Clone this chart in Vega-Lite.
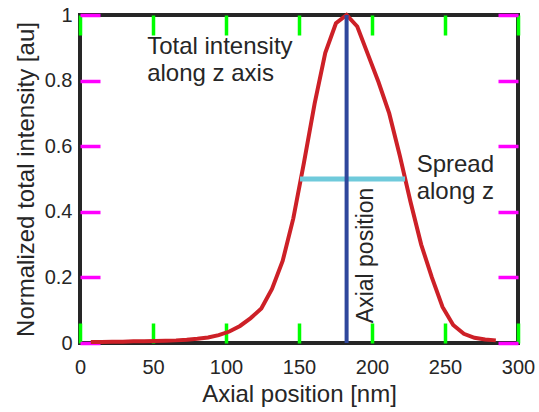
{
  "$schema": "https://vega.github.io/schema/vega-lite/v6.json",
  "width": 438,
  "height": 328,
  "autosize": "none",
  "padding": {"left": 80, "top": 15, "right": 21, "bottom": 69},
  "background": "white",
  "config": {
    "font": "Liberation Sans",
    "view": {"stroke": "#262626", "strokeWidth": 4},
    "axis": {
      "domain": false,
      "labelFlush": false,
      "labelColor": "#262626",
      "labelFontSize": 20,
      "labelFont": "Liberation Sans",
      "titleFont": "Liberation Sans",
      "titleFontSize": 24,
      "titleFontWeight": "normal",
      "titleColor": "#262626"
    }
  },
  "datasets": {
    "curve": [
      {"pos": 7.4, "val": 0.003}, {"pos": 14.7, "val": 0.003}, {"pos": 22.0, "val": 0.004},
      {"pos": 29.3, "val": 0.004}, {"pos": 36.6, "val": 0.005}, {"pos": 43.9, "val": 0.005},
      {"pos": 51.2, "val": 0.006}, {"pos": 58.5, "val": 0.007}, {"pos": 65.8, "val": 0.008},
      {"pos": 73.1, "val": 0.010}, {"pos": 80.4, "val": 0.013}, {"pos": 87.7, "val": 0.017},
      {"pos": 95.0, "val": 0.024}, {"pos": 102.3, "val": 0.035}, {"pos": 109.6, "val": 0.052},
      {"pos": 116.9, "val": 0.076}, {"pos": 124.2, "val": 0.105}, {"pos": 131.5, "val": 0.165},
      {"pos": 138.8, "val": 0.25}, {"pos": 146.1, "val": 0.38}, {"pos": 153.4, "val": 0.55},
      {"pos": 160.7, "val": 0.73}, {"pos": 168.0, "val": 0.885}, {"pos": 175.3, "val": 0.975},
      {"pos": 182.6, "val": 1.0}, {"pos": 189.9, "val": 0.965}, {"pos": 197.2, "val": 0.88},
      {"pos": 204.5, "val": 0.795}, {"pos": 211.8, "val": 0.70}, {"pos": 219.1, "val": 0.57},
      {"pos": 226.4, "val": 0.43}, {"pos": 233.7, "val": 0.30}, {"pos": 241.0, "val": 0.20},
      {"pos": 248.3, "val": 0.11}, {"pos": 255.6, "val": 0.055}, {"pos": 262.9, "val": 0.028},
      {"pos": 270.2, "val": 0.016}, {"pos": 277.5, "val": 0.011}, {"pos": 284.8, "val": 0.008}
    ],
    "peak": [{"pos": 182.6, "val": 0, "val2": 1}],
    "spread": [{"pos": 150.7, "pos2": 222.6, "val": 0.5}],
    "notes": [
      {"pos": 46, "val": 0.881, "label": "Total intensity\nalong z axis"},
      {"pos": 230.6, "val": 0.522, "label": "Spread\nalong z"}
    ],
    "vnote": [{"pos": 200.7, "val": 0.267, "label": "Axial position"}]
  },
  "layer": [
    {
      "data": {"name": "curve"},
      "mark": {"type": "line", "color": "#cd2027", "strokeWidth": 4},
      "encoding": {
        "x": {
          "field": "pos", "type": "quantitative",
          "scale": {"domain": [0, 300], "nice": false, "zero": false},
          "axis": {
            "orient": "bottom",
            "title": "Axial position [nm]",
            "values": [0, 50, 100, 150, 200, 250, 300],
            "ticks": false,
            "grid": true, "gridColor": "lime", "gridOpacity": 1, "gridWidth": 3.5,
            "gridDash": [20, 288, 20],
            "labelPadding": 14,
            "titleY": 58,
            "titleBaseline": "alphabetic"
          }
        },
        "y": {
          "field": "val", "type": "quantitative",
          "scale": {"domain": [0, 1], "nice": false},
          "axis": {
            "orient": "left",
            "title": "Normalized total intensity [au]",
            "values": [0, 0.2, 0.4, 0.6, 0.8, 1],
            "format": "~g",
            "ticks": false,
            "grid": true, "gridColor": "magenta", "gridOpacity": 1, "gridWidth": 3.5,
            "gridDash": [20, 398, 20],
            "labelPadding": 8,
            "titleX": -47,
            "titleBaseline": "alphabetic"
          }
        }
      }
    },
    {
      "data": {"name": "spread"},
      "mark": {"type": "rule", "color": "#6fcadb", "strokeWidth": 5},
      "encoding": {
        "x": {"field": "pos", "type": "quantitative"},
        "x2": {"field": "pos2"},
        "y": {"field": "val", "type": "quantitative"}
      }
    },
    {
      "data": {"name": "peak"},
      "mark": {"type": "rule", "color": "#2f479c", "strokeWidth": 4},
      "encoding": {
        "x": {"field": "pos", "type": "quantitative"},
        "y": {"field": "val", "type": "quantitative"},
        "y2": {"field": "val2"}
      }
    },
    {
      "data": {"name": "notes"},
      "mark": {"type": "text", "align": "left", "baseline": "alphabetic", "fontSize": 24, "lineHeight": 27, "lineBreak": "\n", "color": "#262626", "font": "Liberation Sans"},
      "encoding": {
        "x": {"field": "pos", "type": "quantitative"},
        "y": {"field": "val", "type": "quantitative"},
        "text": {"field": "label"}
      }
    },
    {
      "data": {"name": "vnote"},
      "mark": {"type": "text", "align": "center", "baseline": "alphabetic", "angle": 270, "fontSize": 23, "color": "#262626", "font": "Liberation Sans"},
      "encoding": {
        "x": {"field": "pos", "type": "quantitative"},
        "y": {"field": "val", "type": "quantitative"},
        "text": {"field": "label"}
      }
    }
  ]
}
